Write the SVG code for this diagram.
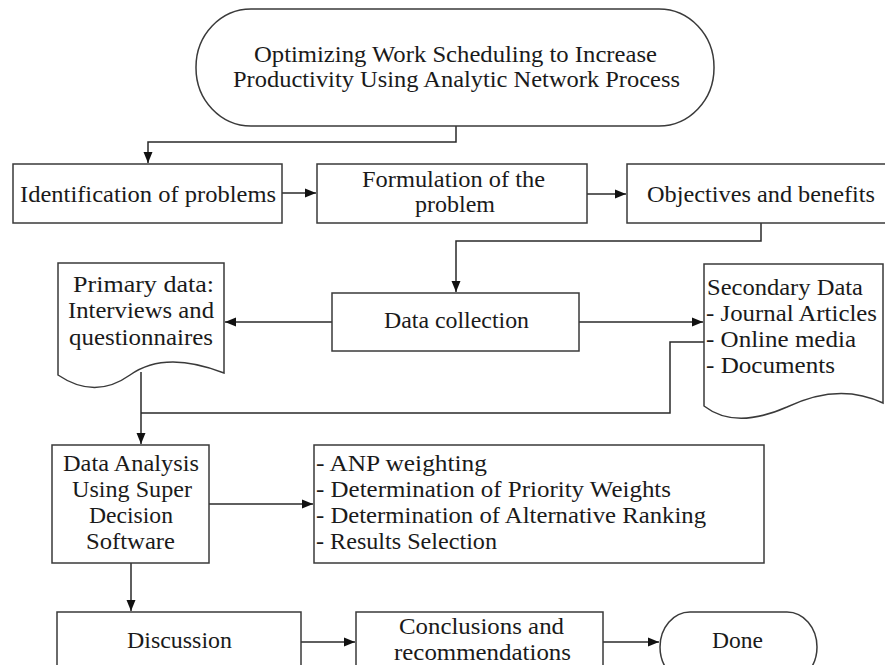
<svg xmlns="http://www.w3.org/2000/svg" width="885" height="665" viewBox="0 0 885 665">
<style>
.shape{fill:#ffffff;stroke:#3a3a3a;stroke-width:1.5}
.conn{fill:none;stroke:#2a2a2a;stroke-width:1.5}
text{font-family:"Liberation Serif","Times New Roman",serif;font-size:23px;fill:#1a1a1a}
</style>
<defs>
<marker id="ah" markerUnits="userSpaceOnUse" markerWidth="12" markerHeight="10" refX="11" refY="5" orient="auto">
<path d="M0,0.5 L11,5 L0,9.5 z" fill="#111111"/>
</marker>
</defs>
<rect width="885" height="665" fill="#ffffff"/>
<g id="connectors">
<path class="conn" d="M456,126 V142 H148 V163" marker-end="url(#ah)"/>
<path class="conn" d="M282,193 H316" marker-end="url(#ah)"/>
<path class="conn" d="M587,194 H626" marker-end="url(#ah)"/>
<path class="conn" d="M761,223 V241 H456 V292" marker-end="url(#ah)"/>
<path class="conn" d="M332,322 H225" marker-end="url(#ah)"/>
<path class="conn" d="M579,322 H703" marker-end="url(#ah)"/>
<path class="conn" d="M141,372 V444" marker-end="url(#ah)"/>
<path class="conn" d="M141,413 H670 V342 H704"/>
<path class="conn" d="M209,504 H313" marker-end="url(#ah)"/>
<path class="conn" d="M131,563 V611" marker-end="url(#ah)"/>
<path class="conn" d="M301,642 H355" marker-end="url(#ah)"/>
<path class="conn" d="M603,642 H659" marker-end="url(#ah)"/>
</g>
<g id="start">
<rect class="shape" x="196" y="9" width="518" height="117" rx="55" ry="58"/>
<text x="254" y="62" textLength="403" lengthAdjust="spacingAndGlyphs">Optimizing Work Scheduling to Increase</text>
<text x="233" y="87" textLength="447" lengthAdjust="spacingAndGlyphs">Productivity Using Analytic Network Process</text>
</g>
<g id="identification">
<rect class="shape" x="13" y="164" width="269" height="59"/>
<text x="20" y="202" textLength="256" lengthAdjust="spacingAndGlyphs">Identification of problems</text>
</g>
<g id="formulation">
<rect class="shape" x="317" y="164" width="270" height="59"/>
<text x="362" y="187" textLength="183" lengthAdjust="spacingAndGlyphs">Formulation of the</text>
<text x="415" y="212" textLength="80" lengthAdjust="spacingAndGlyphs">problem</text>
</g>
<g id="objectives">
<rect class="shape" x="627" y="164" width="270" height="59"/>
<text x="647" y="202" textLength="228" lengthAdjust="spacingAndGlyphs">Objectives and benefits</text>
</g>
<g id="data-collection">
<rect class="shape" x="332" y="293" width="247" height="58"/>
<text x="384" y="328" textLength="145" lengthAdjust="spacingAndGlyphs">Data collection</text>
</g>
<g id="primary-data">
<path class="shape" d="M58,263 H224 V373 Q165,350 130,375 Q95,400 58,375 Z"/>
<text x="73" y="292" textLength="141" lengthAdjust="spacingAndGlyphs">Primary data:</text>
<text x="68" y="318" textLength="146" lengthAdjust="spacingAndGlyphs">Interviews and</text>
<text x="69" y="345" textLength="144" lengthAdjust="spacingAndGlyphs">questionnaires</text>
</g>
<g id="secondary-data">
<path class="shape" d="M704,264 H883 V403 Q839,382 787,407 Q735,430 704,406 Z"/>
<text x="707" y="295" textLength="156" lengthAdjust="spacingAndGlyphs">Secondary Data</text>
<text x="706" y="321" textLength="171" lengthAdjust="spacingAndGlyphs">- Journal Articles</text>
<text x="706" y="347" textLength="150" lengthAdjust="spacingAndGlyphs">- Online media</text>
<text x="706" y="373" textLength="129" lengthAdjust="spacingAndGlyphs">- Documents</text>
</g>
<g id="data-analysis">
<rect class="shape" x="52" y="445" width="157" height="118"/>
<text x="63" y="471" textLength="136" lengthAdjust="spacingAndGlyphs">Data Analysis</text>
<text x="72" y="497" textLength="120" lengthAdjust="spacingAndGlyphs">Using Super</text>
<text x="89" y="523" textLength="84" lengthAdjust="spacingAndGlyphs">Decision</text>
<text x="86" y="549" textLength="89" lengthAdjust="spacingAndGlyphs">Software</text>
</g>
<g id="anp-steps">
<rect class="shape" x="314" y="445" width="450" height="118"/>
<text x="316" y="471" textLength="171" lengthAdjust="spacingAndGlyphs">- ANP weighting</text>
<text x="316" y="497" textLength="355" lengthAdjust="spacingAndGlyphs">- Determination of Priority Weights</text>
<text x="316" y="523" textLength="390" lengthAdjust="spacingAndGlyphs">- Determination of Alternative Ranking</text>
<text x="316" y="549" textLength="181" lengthAdjust="spacingAndGlyphs">- Results Selection</text>
</g>
<g id="discussion">
<rect class="shape" x="57" y="612" width="244" height="80"/>
<text x="127" y="648" textLength="105" lengthAdjust="spacingAndGlyphs">Discussion</text>
</g>
<g id="conclusions">
<rect class="shape" x="356" y="612" width="247" height="80"/>
<text x="399" y="634" textLength="165" lengthAdjust="spacingAndGlyphs">Conclusions and</text>
<text x="394" y="660" textLength="177" lengthAdjust="spacingAndGlyphs">recommendations</text>
</g>
<g id="done">
<rect class="shape" x="660" y="612" width="157" height="70" rx="30" ry="35"/>
<text x="712" y="648" textLength="51" lengthAdjust="spacingAndGlyphs">Done</text>
</g>
</svg>
